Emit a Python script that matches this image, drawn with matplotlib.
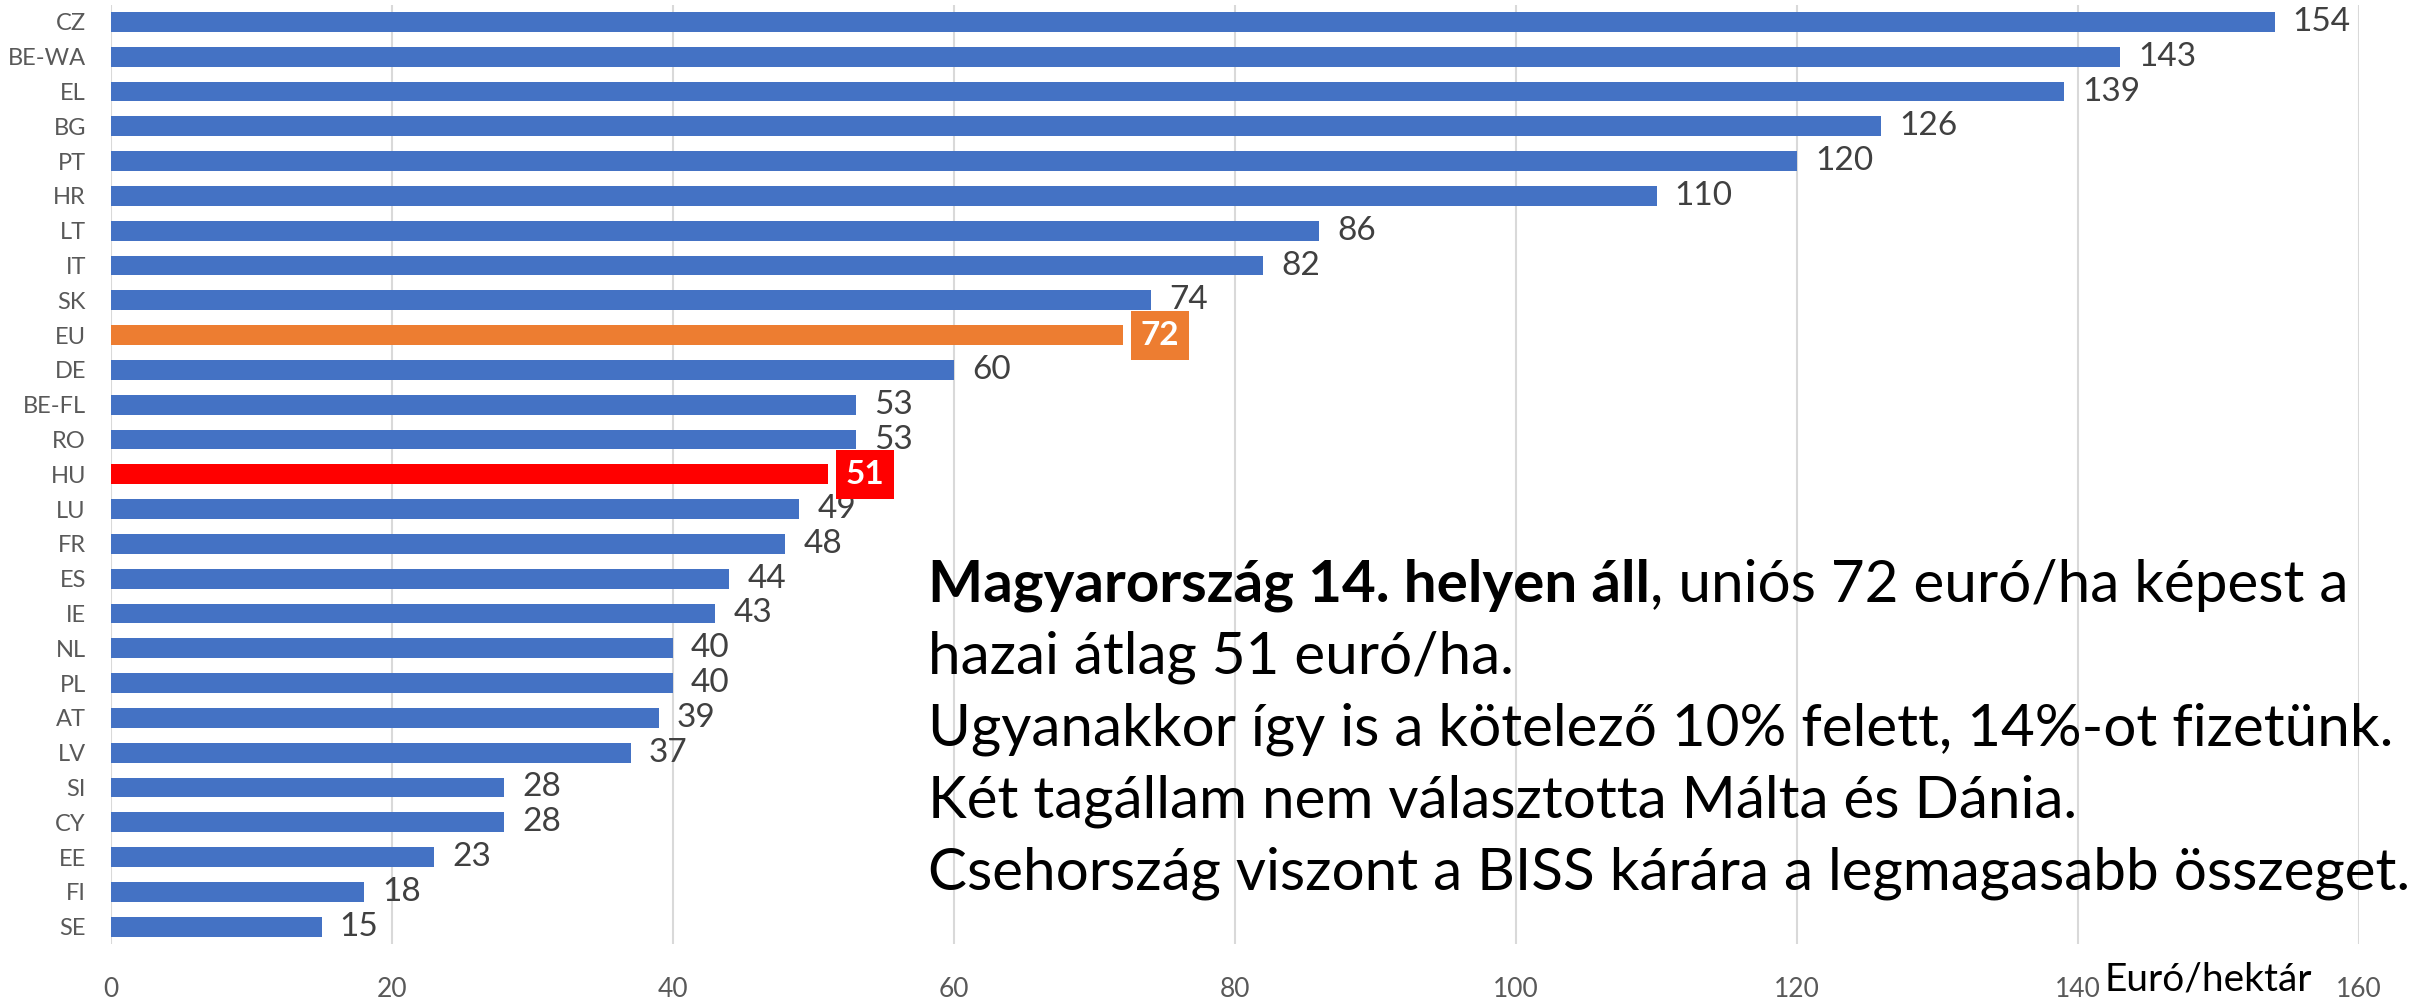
import matplotlib
matplotlib.use("Agg")
import matplotlib.pyplot as plt
import numpy as np

plt.rcParams['font.family'] = ['Lato', 'DejaVu Sans']

# Data (Euro / hectare)
countries = ['CZ', 'BE-WA', 'EL', 'BG', 'PT', 'HR', 'LT', 'IT', 'SK', 'EU',
             'DE', 'BE-FL', 'RO', 'HU', 'LU', 'FR', 'ES', 'IE', 'NL', 'PL',
             'AT', 'LV', 'SI', 'CY', 'EE', 'FI', 'SE']
values = [154, 143, 139, 126, 120, 110, 86, 82, 74, 72,
          60, 53, 53, 51, 49, 48, 44, 43, 40, 40,
          39, 37, 28, 28, 23, 18, 15]
x_ticks = [0, 20, 40, 60, 80, 100, 120, 140, 160]

highlight = {'EU': '#ED7D31', 'HU': '#FF0000'}
blue = '#4472C4'

text_lines = [
    ('Magyarország 14. helyen áll', ', uniós 72 euró/ha képest a'),
    ('', 'hazai átlag 51 euró/ha.'),
    ('', 'Ugyanakkor így is a kötelező 10% felett, 14%-ot fizetünk.'),
    ('', 'Két tagállam nem választotta Málta és Dánia.'),
    ('', 'Csehország viszont a BISS kárára a legmagasabb összeget.'),
]

W, H = 2410, 1002
fig = plt.figure(figsize=(W / 100, H / 100), dpi=100)
ax = fig.add_axes([111 / W, 1 - 944 / H, (2359 - 111) / W, (944 - 4.6) / H])

y = np.arange(len(countries))
colors = [highlight.get(c, blue) for c in countries]
ax.barh(y, values, height=0.57, color=colors, zorder=2)

for yi, c, v in zip(y, countries, values):
    if c in highlight:
        ax.annotate(str(v), xy=(v, yi), xytext=(13, 0), textcoords='offset points',
                    va='center', ha='left', fontsize=24, fontweight='bold', color='white',
                    bbox=dict(boxstyle='square,pad=0.3', fc=highlight[c], ec='none'),
                    zorder=4)
    else:
        ax.annotate(str(v), xy=(v, yi), xytext=(13, 0), textcoords='offset points',
                    va='center', ha='left', fontsize=24, color='#404040', zorder=3)

ax.set_xlim(0, 160)
ax.set_ylim(len(countries) - 0.5, -0.5)
ax.set_xticks(x_ticks)
ax.set_yticks(y)
ax.set_yticklabels(countries)
ax.grid(axis='x', color='#D9D9D9', linewidth=1.5, zorder=0)
ax.tick_params(axis='y', length=0, pad=18, labelsize=17, labelcolor='#595959')
ax.tick_params(axis='x', length=0, pad=24, labelsize=19, labelcolor='#595959')
for s in ax.spines.values():
    s.set_visible(False)

# Text block on the right
x0 = 928 / W
baselines = [602, 674, 746, 818, 890]
fs = 42
for (bold_part, normal_part), b in zip(text_lines, baselines):
    yy = 1 - b / H
    if bold_part:
        t = fig.text(x0, yy, bold_part, fontsize=fs, fontweight='bold', va='baseline', ha='left')
        fig.canvas.draw()
        ext = t.get_window_extent()
        fig.text(ext.x1 / W, yy, normal_part, fontsize=fs, va='baseline', ha='left')
    else:
        fig.text(x0, yy, normal_part, fontsize=fs, va='baseline', ha='left')

fig.text(2105 / W, 1 - 990 / H, 'Euró/hektár', fontsize=28, va='baseline', ha='left')

fig.savefig('out.png', dpi=100)
